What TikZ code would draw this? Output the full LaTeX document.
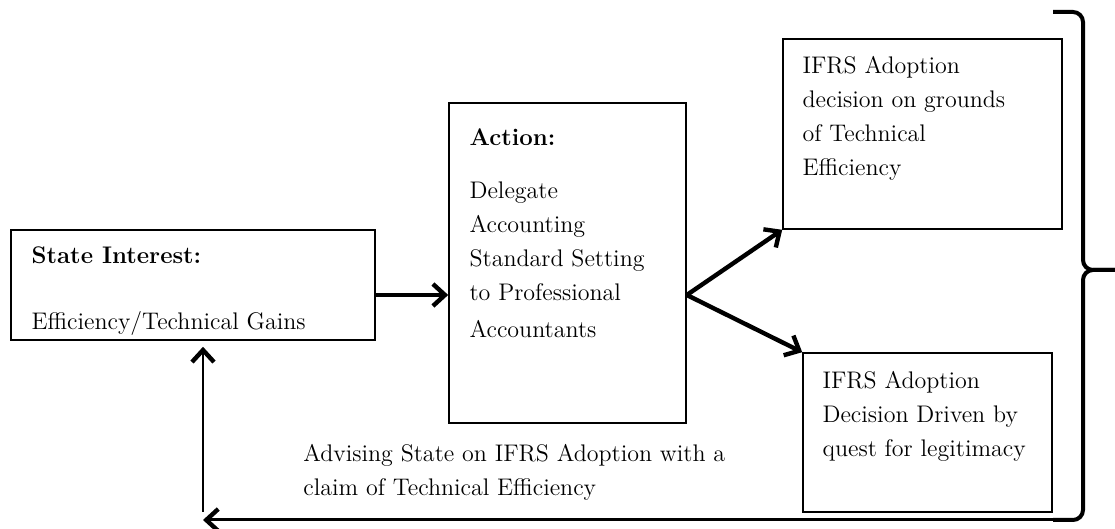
\documentclass[tikz,border=0pt]{standalone}
\usetikzlibrary{arrows.meta,calc,positioning}
\definecolor{ifInk}{HTML}{000000}
\tikzset{
  if box/.style={draw=ifInk, line width=.8pt, inner sep=0pt},
  if text/.style={
    anchor=north west, inner sep=0pt, align=left,
    font=\fontsize{12}{17}\selectfont, text=ifInk
  },
  if arrow/.style={
    draw=ifInk,
    line width=2.2pt,
    -{Straight Barb[length=6pt,width=11pt]}
  },
  if thin arrow/.style={
    draw=ifInk,
    line width=1.1pt,
    -{Straight Barb[length=6pt,width=11pt,line width=2.2pt]}
  },
  if brace/.style={draw=ifInk, line width=2pt, rounded corners=5pt}
}
\begin{document}
\begin{tikzpicture}[x=.5pt,y=.5pt]
  \useasboundingbox (0,0) rectangle (1115,529);

  \node[if box, minimum width=182pt, minimum height=55pt] (stateBox) at (193,244) {};
  \node[if box, minimum width=118.5pt, minimum height=160pt] (actionBox) at (567.5,266) {};
  \node[if box, minimum width=139.5pt, minimum height=95pt] (effBox) at (922.5,395) {};
  \node[if box, minimum width=124.5pt, minimum height=79.5pt] (legBox) at (927.5,96.5) {};

  \node[if text] (stateText) at ($(stateBox.north west)+(21,-17)$)
    {\textbf{State Interest:}\\[16pt]Efficiency/Technical Gains};
  \node[if text] (actionText) at ($(actionBox.north west)+(21,-26)$)
    {\textbf{Action:}\\[9.5pt]Delegate\\Accounting\\Standard Setting\\to Professional\\[1.5pt]Accountants};
  \node[if text] (effText) at ($(effBox.north west)+(20,-18)$)
    {IFRS Adoption\\decision on grounds\\of Technical\\Efficiency};
  \node[if text] (legText) at ($(legBox.north west)+(20,-19)$)
    {IFRS Adoption\\Decision Driven by\\quest for legitimacy};
  \node[if text] (adviceText) at (303,85)
    {Advising State on IFRS Adoption with a\\claim of Technical Efficiency};

  \coordinate (forkPt) at ($(actionBox.east)+(0,-32)$);
  \draw[if arrow] (stateBox.east |- forkPt) -- (actionBox.west |- forkPt);
  \draw[if arrow] (forkPt) -- (effBox.south west);
  \draw[if arrow] (forkPt) -- (legBox.north west);

  % brace and feedback loop
  \coordinate (braceTop) at (1053,517);
  \coordinate (braceBot) at (1053,9);
  \coordinate (braceTip) at (1115,259);
  \coordinate (feedCorner) at (203,9);
  \draw[if brace] (braceTop) -- (1083,517) -- (1083,259) -- (braceTip);
  \draw[if brace] (braceBot) -- (1083,9) -- (1083,259) -- (braceTip);
  \draw[if thin arrow, line width=1.5pt] (braceBot) -- (feedCorner);
  \draw[if thin arrow] ($(feedCorner)+(0,8)$) -- ($(feedCorner |- stateBox.south)+(0,-6)$);
\end{tikzpicture}
\end{document}
